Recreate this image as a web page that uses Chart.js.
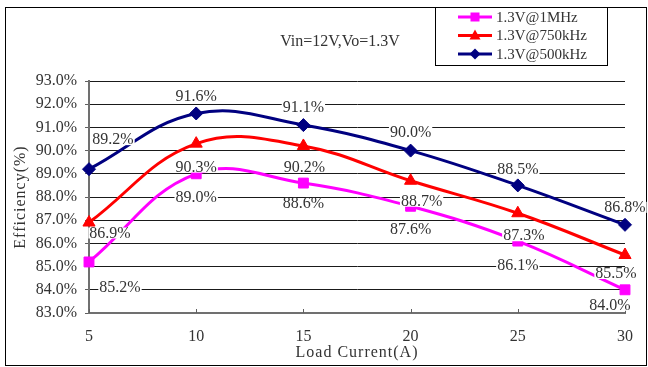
<!DOCTYPE html>
<html>
<head>
<meta charset="utf-8">
<script src="https://cdn.jsdelivr.net/npm/chart.js@4.4.1/dist/chart.umd.min.js"></script>
<style>
  body { margin: 0; background: #fff; }
  #wrap { width: 648px; height: 367px; }
</style>
</head>
<body>
<div id="wrap"><canvas id="chart" width="648" height="367"></canvas></div>
<script>
// ---------- data ----------
var loadCurrent = [5, 10, 15, 20, 25, 30];
var eff1MHz = [85.2, 89.0, 88.6, 87.6, 86.1, 84.0];
var eff750k = [86.9, 90.3, 90.2, 88.7, 87.3, 85.5];
var eff500k = [89.2, 91.6, 91.1, 90.0, 88.5, 86.8];
var seriesNames = ['1.3V@1MHz', '1.3V@750kHz', '1.3V@500kHz'];
var chartTitle = 'Vin=12V,Vo=1.3V';
var xTitle = 'Load Current(A)';
var yTitle = 'Efficiency(%)';

// where each value label sits, relative to its marker (px)
var labelOffsets = [
    [[31, 25], [0, 23], [0, 20], [0, 23], [0, 24], [-15, 15]],
    [[21, 10], [0, 23], [1, 21], [11, 20], [6, 22], [-9, 18]],
    [[24, -30], [0, -18], [0, -18], [0, -19], [0, -17], [0, -18]]
];

var FONT = '"Liberation Serif", "DejaVu Serif", serif';
var TEXT = '#333';
var colors = ['#ff00ff', '#ff0000', '#000080'];
var styles = ['rect', 'triangle', 'rectRot'];
var radii = [7, 7, 6.5];

function pairs(ys) {
    return ys.map(function(v, i) { return { x: loadCurrent[i], y: v }; });
}

var allSeries = [eff1MHz, eff750k, eff500k];
var datasets = allSeries.map(function(s, i) {
    return {
        label: seriesNames[i],
        data: pairs(s),
        borderColor: colors[i],
        backgroundColor: colors[i],
        borderWidth: 3,
        pointStyle: styles[i],
        pointRadius: radii[i],
        pointBorderWidth: 1,
        pointBackgroundColor: colors[i],
        pointBorderColor: colors[i],
        tension: 0.4,
        fill: false,
        clip: false
    };
});

// ---------- frame, titles, legend, inner ticks, value labels ----------
function legendIcon(ctx, style, x, y, c) {
    ctx.fillStyle = c;
    ctx.beginPath();
    if (style === 'rect') {
        ctx.rect(x - 4.5, y - 4.5, 9, 9);
    } else if (style === 'triangle') {
        ctx.moveTo(x, y - 6); ctx.lineTo(x + 5.5, y + 4); ctx.lineTo(x - 5.5, y + 4);
    } else {
        ctx.moveTo(x, y - 5.5); ctx.lineTo(x + 5.5, y); ctx.lineTo(x, y + 5.5); ctx.lineTo(x - 5.5, y);
    }
    ctx.closePath();
    ctx.fill();
}

var decorPlugin = {
    id: 'decor',
    beforeDraw: function(chart) {
        var ctx = chart.ctx;
        ctx.save();
        ctx.fillStyle = '#fff';
        ctx.fillRect(0, 0, chart.width, chart.height);
        ctx.strokeStyle = '#000';
        ctx.lineWidth = 1;
        ctx.strokeRect(5.5, 7.5, 641, 358);
        ctx.restore();
    },
    afterDatasetsDraw: function(chart) {
        var ctx = chart.ctx;
        var area = chart.chartArea;
        var xs = chart.scales.x;
        ctx.save();

        // small tick marks pointing up into the plot
        ctx.strokeStyle = '#606060';
        ctx.lineWidth = 1;
        loadCurrent.forEach(function(v) {
            var px = Math.round(xs.getPixelForValue(v)) + 0.5;
            ctx.beginPath();
            ctx.moveTo(px, area.bottom);
            ctx.lineTo(px, area.bottom - 4);
            ctx.stroke();
        });

        // value labels
        ctx.font = '16px ' + FONT;
        ctx.textAlign = 'center';
        ctx.textBaseline = 'middle';
        chart.data.datasets.forEach(function(ds, di) {
            var meta = chart.getDatasetMeta(di);
            meta.data.forEach(function(pt, i) {
                var off = labelOffsets[di][i];
                var txt = allSeries[di][i].toFixed(1) + '%';
                var cx = pt.x + off[0], cy = pt.y + off[1];
                var w = ctx.measureText(txt).width;
                ctx.fillStyle = '#fff';
                ctx.fillRect(cx - w / 2 - 1, cy - 5, w + 2, 11);
                ctx.fillStyle = TEXT;
                ctx.fillText(txt, cx, cy + 1);
            });
        });

        // chart title
        ctx.fillStyle = TEXT;
        ctx.fillText(chartTitle, 340, 42);

        // axis titles
        ctx.letterSpacing = '1px';
        ctx.fillText(xTitle, (area.left + area.right) / 2, 353);
        ctx.save();
        ctx.translate(21, (area.top + area.bottom) / 2);
        ctx.rotate(-Math.PI / 2);
        ctx.fillText(yTitle, 0, 0);
        ctx.restore();
        ctx.letterSpacing = '0px';

        // legend box
        ctx.fillStyle = '#fff';
        ctx.fillRect(435.5, 7.5, 172, 58);
        ctx.strokeStyle = '#000';
        ctx.strokeRect(435.5, 7.5, 172, 58);
        ctx.textAlign = 'left';
        ctx.font = '15px ' + FONT;
        seriesNames.forEach(function(name, i) {
            var y = 17 + i * 18.5;
            ctx.strokeStyle = colors[i];
            ctx.lineWidth = 3;
            ctx.beginPath();
            ctx.moveTo(458, y);
            ctx.lineTo(492, y);
            ctx.stroke();
            legendIcon(ctx, styles[i], 475, y, colors[i]);
            ctx.fillStyle = TEXT;
            ctx.fillText(name, 496, y + 1);
        });
        ctx.restore();
    }
};

// ---------- chart ----------
new Chart(document.getElementById('chart').getContext('2d'), {
    type: 'line',
    data: { datasets: datasets },
    options: {
        responsive: false,
        devicePixelRatio: 1,
        animation: false,
        layout: { padding: { left: 0, right: 23, top: 81, bottom: 0 } },
        plugins: {
            legend: { display: false },
            tooltip: { enabled: false }
        },
        scales: {
            x: {
                type: 'linear',
                min: 5,
                max: 30,
                afterFit: function(scale) { scale.height = 54; },
                grid: { display: false, drawTicks: false },
                border: { display: true, color: '#707070', width: 2 },
                ticks: {
                    stepSize: 5,
                    padding: 14,
                    color: TEXT,
                    font: { family: FONT, size: 16 }
                }
            },
            y: {
                min: 83,
                max: 93,
                afterFit: function(scale) { scale.width = 89; },
                grid: { color: '#1a1a1a', lineWidth: 1, drawTicks: true, tickLength: 4, tickColor: '#606060' },
                border: { display: true, color: '#707070', width: 2 },
                ticks: {
                    stepSize: 1,
                    padding: 8,
                    color: TEXT,
                    font: { family: FONT, size: 16 },
                    callback: function(v) { return v.toFixed(1) + '%'; }
                }
            }
        }
    },
    plugins: [decorPlugin]
});
</script>
</body>
</html>
